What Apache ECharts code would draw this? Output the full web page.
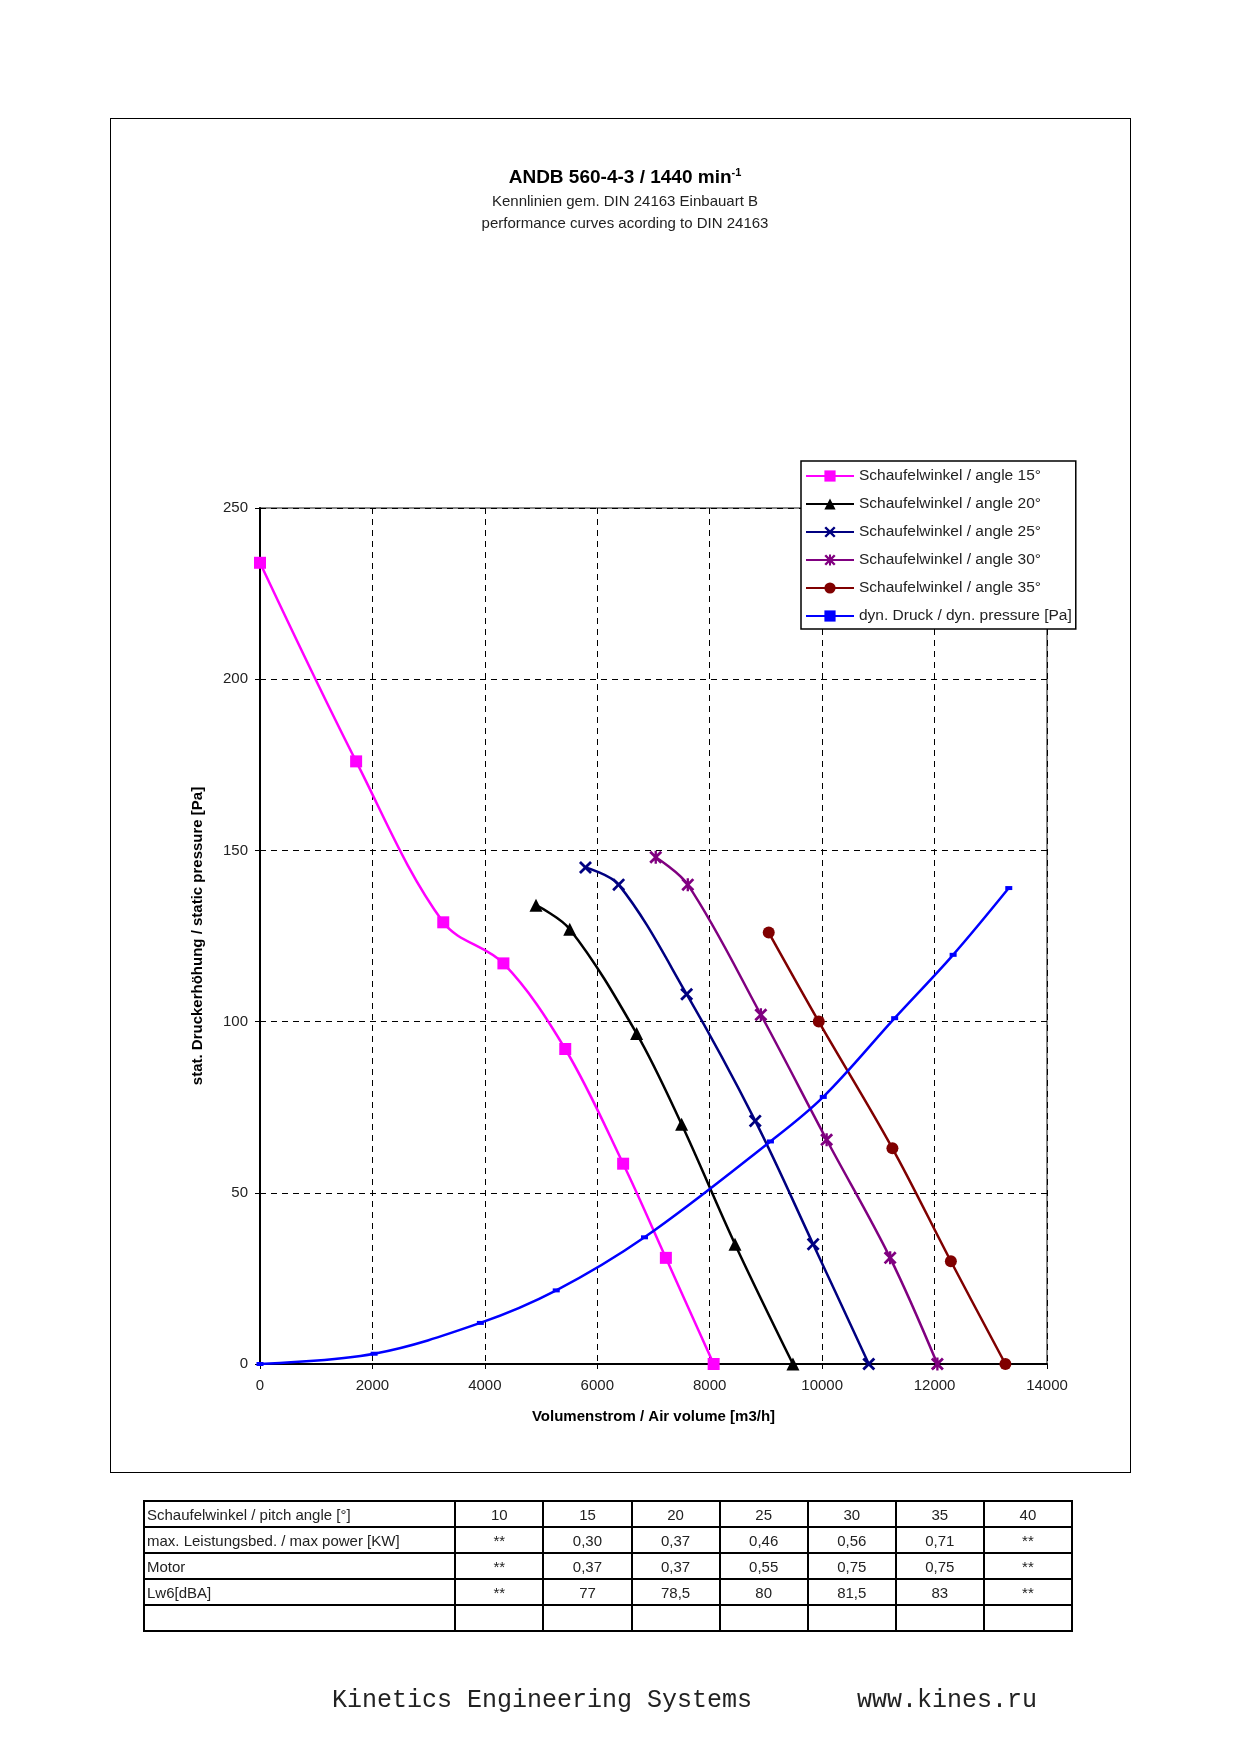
<!DOCTYPE html>
<html><head><meta charset="utf-8">
<script src="https://cdn.jsdelivr.net/npm/echarts@6/dist/echarts.min.js"></script>
<style>
body{margin:0;background:#fff;font-family:Arial,"Liberation Sans",sans-serif}
#frame{position:absolute;left:110px;top:118px;width:1019px;height:1353px;border:1.5px solid #000}
#chart{position:absolute;left:0;top:0;width:1240px;height:1755px}
table{position:absolute;left:143px;top:1500px;width:930px;border-collapse:collapse;font-size:15px;table-layout:fixed}
td{border:2px solid #000;height:24px;padding:0;text-align:center;color:#222;overflow:hidden;white-space:nowrap}
td:first-child{text-align:left;padding-left:2px}
#foot{position:absolute;left:332px;top:1686px;font-family:"Liberation Mono","DejaVu Sans Mono",monospace;font-size:25px;white-space:pre;color:#222}
</style></head><body>
<div id="frame"></div>
<div id="chart"></div>
<table id="tbl"></table>
<div id="foot">Kinetics Engineering Systems       www.kines.ru</div>
<script>
const angle15 = [[0,234],[1710,176],[3260,129],[4330,117],[5430,92],[6460,58.5],[7220,31],[8070,0]];
const angle20 = [[4910,134],[5510,127],[6700,96.5],[7500,70],[8450,35],[9480,0]];
const angle25 = [[5790,145],[6380,140],[7590,108],[8810,71],[9840,35],[10830,0]];
const angle30 = [[7040,148],[7610,140],[8910,102],[10080,65.5],[11210,31],[12050,0]];
const angle35 = [[9050,126],[9940,100],[11250,63],[12290,30],[13260,0]];
const dynPressure = [[0,0],[2030,3],[3920,12],[5270,21.5],[6840,37],[9080,65],[10020,78],[11290,101],[12330,119.5],[13320,139]];
const seriesNames = ['Schaufelwinkel / angle 15°','Schaufelwinkel / angle 20°','Schaufelwinkel / angle 25°','Schaufelwinkel / angle 30°','Schaufelwinkel / angle 35°','dyn. Druck / dyn. pressure [Pa]'];

const tableRows = [
  ['Schaufelwinkel / pitch angle [°]','10','15','20','25','30','35','40'],
  ['max. Leistungsbed. / max power [KW]','**','0,30','0,37','0,46','0,56','0,71','**'],
  ['Motor','**','0,37','0,37','0,55','0,75','0,75','**'],
  ['Lw6[dBA]','**','77','78,5','80','81,5','83','**'],
  ['','','','','','','','']
];
document.getElementById('tbl').innerHTML =
  '<colgroup><col style="width:311px">' + '<col style="width:88px">'.repeat(7) + '</colgroup>' +
  tableRows.map(r => '<tr>' + r.map(c => '<td>' + c + '</td>').join('') + '</tr>').join('');

const X = 'path://M0,1.5L1.5,0L5,3.5L8.5,0L10,1.5L6.5,5L10,8.5L8.5,10L5,6.5L1.5,10L0,8.5L3.5,5Z';
const STAR = 'path://M0,1.5L1.5,0L5,3.5L8.5,0L10,1.5L6.5,5L10,8.5L8.5,10L5,6.5L1.5,10L0,8.5L3.5,5ZM4.1,0L5.9,0L5.9,10L4.1,10Z';

function line(name, data, color, symbol, size) {
  return { name, type: 'line', data, smooth: 0.35, symbol, symbolSize: size,
    lineStyle: { color, width: 2.5 }, itemStyle: { color }, z: 3 };
}

const chart = echarts.init(document.getElementById('chart'));
chart.setOption({
  animation: false,
  textStyle: { fontFamily: 'Arial' },
  title: {
    text: 'ANDB 560-4-3 / 1440 min{s|-1}',
    subtext: 'Kennlinien gem. DIN 24163 Einbauart B\nperformance curves acording to DIN 24163',
    left: 620, textAlign: 'center', top: 162, itemGap: 4,
    textStyle: { fontSize: 19, fontWeight: 'bold', color: '#000', rich: { s: { fontSize: 11, fontWeight: 'bold', verticalAlign: 'top', padding: [0,0,10,0] } } },
    subtextStyle: { fontSize: 15, color: '#222', lineHeight: 22 }
  },
  legend: {
    orient: 'vertical', left: 801, top: 461, itemGap: 12, itemWidth: 48, itemHeight: 14,
    borderColor: '#000', borderWidth: 1.5, backgroundColor: '#fff', padding: [7, 4, 5, 4],
    textStyle: { fontSize: 15.5, color: '#222' }, data: seriesNames, z: 10
  },
  grid: { left: 260, right: 193, top: 508, bottom: 391, show: true, borderColor: '#888', borderWidth: 2 },
  xAxis: {
    type: 'value', min: 0, max: 14000, interval: 2000,
    name: 'Volumenstrom / Air volume [m3/h]', nameLocation: 'middle', nameGap: 45,
    nameTextStyle: { fontSize: 15, fontWeight: 'bold', color: '#000' },
    axisLine: { lineStyle: { color: '#000', width: 2 } },
    axisTick: { show: true, lineStyle: { color: '#000' } },
    axisLabel: { fontSize: 15, color: '#222', margin: 14, formatter: v => String(v) },
    splitLine: { lineStyle: { color: '#000', type: [6, 5], width: 1 } }
  },
  yAxis: {
    type: 'value', min: 0, max: 250, interval: 50,
    name: 'stat. Druckerhöhung / static pressure [Pa]', nameLocation: 'middle', nameGap: 55,
    nameTextStyle: { fontSize: 15, fontWeight: 'bold', color: '#000' },
    axisLine: { show: true, lineStyle: { color: '#000', width: 2 } },
    axisTick: { show: true, lineStyle: { color: '#000' } },
    axisLabel: { fontSize: 15, color: '#222', margin: 12 },
    splitLine: { lineStyle: { color: '#000', type: [6, 5], width: 1 } }
  },
  series: [
    line(seriesNames[0], angle15, '#ff00ff', 'rect', 12),
    line(seriesNames[1], angle20, '#000000', 'triangle', 13),
    line(seriesNames[2], angle25, '#000080', X, 13),
    line(seriesNames[3], angle30, '#800080', STAR, 13),
    line(seriesNames[4], angle35, '#800000', 'circle', 12),
    line(seriesNames[5], dynPressure, '#0000ff', 'rect', [7, 4])
  ]
});
</script>
</body></html>
